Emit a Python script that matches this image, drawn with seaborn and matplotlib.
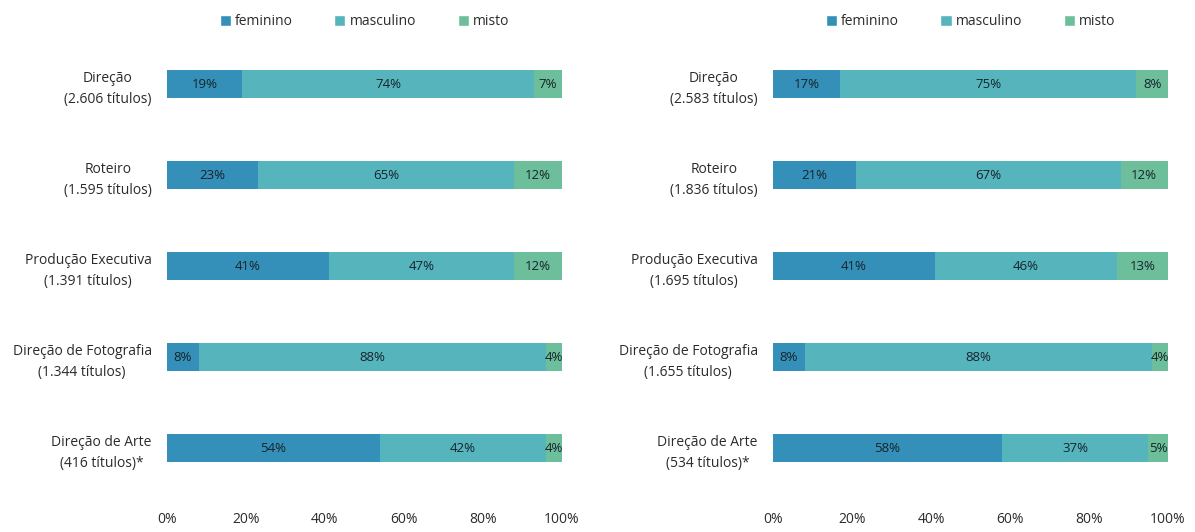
"""
Stacked horizontal bars: gender share per function, two periods side by side.
"""

import matplotlib
matplotlib.use("Agg")
import matplotlib.pyplot as plt
from matplotlib.patches import Patch
import pandas as pd
import seaborn as sns

# categories (y labels) for each panel
labels_left = ["Direção\n(2.606 títulos)", "Roteiro\n(1.595 títulos)",
               "Produção Executiva\n(1.391 títulos)", "Direção de Fotografia\n(1.344 títulos)",
               "Direção de Arte\n(416 títulos)*"]
labels_right = ["Direção\n(2.583 títulos)", "Roteiro\n(1.836 títulos)",
                "Produção Executiva\n(1.695 títulos)", "Direção de Fotografia\n(1.655 títulos)",
                "Direção de Arte\n(534 títulos)*"]

# shares in %
fem_left = [19, 23, 41, 8, 54]
masc_left = [74, 65, 47, 88, 42]
misto_left = [7, 12, 12, 4, 4]

fem_right = [17, 21, 41, 8, 58]
masc_right = [75, 67, 46, 88, 37]
misto_right = [8, 12, 13, 4, 5]

series = ["feminino", "masculino", "misto"]
colors = ["#3490b8", "#56b4bd", "#6cbf9a"]
xticks = [0, 20, 40, 60, 80, 100]

sns.set_theme(style="white")
plt.rcParams["font.family"] = ["Open Sans", "DejaVu Sans"]
text_color = "#2b2b2b"

fig = plt.figure(figsize=(11.95, 5.32), dpi=100)
ax_l = fig.add_axes([0.1397, 0.072, 0.3305, 0.855])
ax_r = fig.add_axes([0.6469, 0.072, 0.3305, 0.855])


def draw_panel(ax, labels, fem, masc, misto):
    df = pd.DataFrame({"cat": labels, "feminino": fem, "masculino": masc, "misto": misto})
    cum = df[series].cumsum(axis=1)
    # draw from the longest cumulative segment down so the shorter ones sit on top
    for s, c in reversed(list(zip(series, colors))):
        sns.barplot(x=cum[s], y=df["cat"], color=c, orient="h", width=0.31,
                    saturation=1, linewidth=0, ax=ax, order=labels)
    # value labels centered in each segment
    for i in range(len(df)):
        start = 0
        for s in series:
            v = df.loc[i, s]
            ax.text(start + v / 2, i, f"{v}%", ha="center", va="center",
                    fontsize=9.5, color="#17232b")
            start += v
    ax.set_xlim(0, 100)
    ax.set_ylim(len(df) - 0.5, -0.5)
    ax.set_xticks(xticks)
    ax.set_xticklabels([f"{t}%" for t in xticks], fontsize=10, color=text_color)
    ax.tick_params(axis="x", length=0, pad=13)
    ax.tick_params(axis="y", length=0, pad=11)
    ax.set_yticklabels(labels, fontsize=10, color=text_color, ha="right",
                       multialignment="center", linespacing=1.5)
    ax.set_xlabel("")
    ax.set_ylabel("")
    sns.despine(ax=ax, left=True, bottom=True)
    handles = [Patch(facecolor=c, label=s) for s, c in zip(series, colors)]
    leg = ax.legend(handles=handles, loc="lower center", bbox_to_anchor=(0.5, 1.0),
                    ncol=3, frameon=False, fontsize=10, handlelength=0.8,
                    handleheight=0.8, handletextpad=0.3, columnspacing=3.0,
                    borderaxespad=0.3)
    for t in leg.get_texts():
        t.set_color(text_color)


draw_panel(ax_l, labels_left, fem_left, masc_left, misto_left)
draw_panel(ax_r, labels_right, fem_right, masc_right, misto_right)

fig.savefig("out.png", dpi=100)
